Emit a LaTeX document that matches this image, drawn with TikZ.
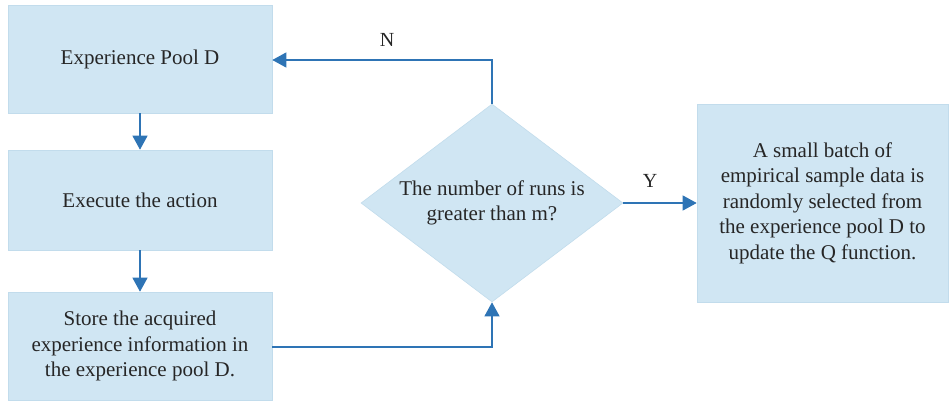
\documentclass[tikz,border=0pt]{standalone}
\usepackage{fontspec}
\setmainfont{Liberation Serif}
\usetikzlibrary{shapes.geometric,arrows.meta}
\definecolor{boxfill}{HTML}{D0E6F3}
\definecolor{boxedge}{HTML}{C2DCEC}
\definecolor{arrowc}{HTML}{2E74B5}
\begin{document}
\begin{tikzpicture}[x=1pt,y=-1pt,
  proc/.style={draw=boxedge,line width=0.6pt,fill=boxfill,minimum width=264pt,align=center,font=\fontsize{21}{25.5}\selectfont,text=black!85,inner sep=0pt},
  dec/.style={diamond,draw=boxedge,line width=0.6pt,fill=boxfill,minimum width=262pt,minimum height=198pt,inner sep=0pt,aspect=1.32,align=center,font=\fontsize{21}{25.5}\selectfont,text=black!85},
  conn/.style={draw=arrowc,line width=1.2pt,-{Triangle[length=14pt,width=15pt]}},
  lab/.style={font=\fontsize{20}{22}\selectfont,text=black!85}]
\useasboundingbox (0,0) rectangle (950,402);
\node[proc,minimum height=108pt] (b1) at (140,59) {Experience Pool D};
\node[proc,minimum height=100pt] (b2) at (140,200) {Execute the action};
\node[proc,minimum height=108pt] (b3) at (140,346) {Store the acquired\\experience information in\\the experience pool D.};
\node[dec] (d) at (492,203) {The number of runs is\\greater than m?};
\node[draw=boxedge,line width=0.6pt,fill=boxfill,minimum width=251pt,minimum height=198pt,align=center,font=\fontsize{21}{25.5}\selectfont,text=black!85,inner sep=0pt] (b4) at (822.5,203) {A small batch of\\empirical sample data is\\randomly selected from\\the experience pool D to\\update the Q function.};
\coordinate (c1) at (492,60);
\coordinate (c2) at (492,347);
\draw[conn] (b1.south) -- (b2.north);
\draw[conn] (b2.south) -- (b3.north);
\draw[conn] (b3.east |- c2) -- (c2) -- (d.south);
\draw[conn] (d.north) -- (c1) -- (b1.east |- c1);
\draw[conn] (d.east) -- (b4.west);
\node[lab] (n) at (387,40) {N};
\node[lab] (y) at (650,181) {Y};
\end{tikzpicture}
\end{document}
